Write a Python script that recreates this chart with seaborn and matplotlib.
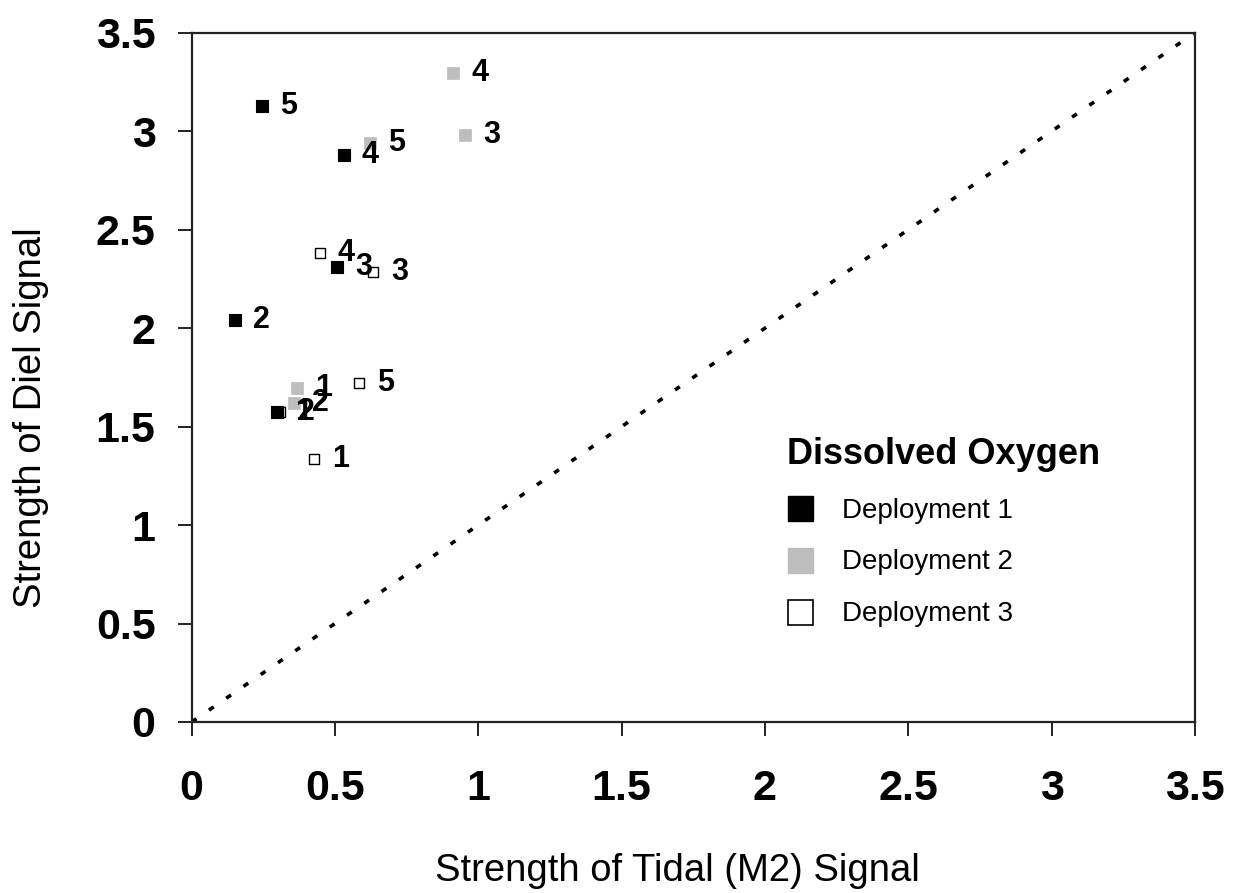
import matplotlib
matplotlib.use("Agg")
import matplotlib.pyplot as plt
import seaborn as sns
import pandas as pd
from matplotlib.lines import Line2D

# Data: (tidal M2 strength, diel strength) per site, per deployment
sites = ["1", "2", "3", "4", "5"]
dep1_x = [0.297, 0.151, 0.506, 0.531, 0.245]
dep1_y = [1.574, 2.040, 2.310, 2.878, 3.127]
dep2_x = [0.367, 0.357, 0.953, 0.912, 0.622]
dep2_y = [1.695, 1.619, 2.980, 3.294, 2.940]
dep3_x = [0.427, 0.308, 0.632, 0.447, 0.583]
dep3_y = [1.335, 1.574, 2.284, 2.381, 1.721]
deployments = ["Deployment 1", "Deployment 2", "Deployment 3"]
ticks = [0, 0.5, 1, 1.5, 2, 2.5, 3, 3.5]
tick_labels = ["0", "0.5", "1", "1.5", "2", "2.5", "3", "3.5"]

sns.set_style("white")
plt.rcParams["font.family"] = ["Liberation Sans", "DejaVu Sans"]
plt.rcParams["text.color"] = "black"
plt.rcParams["axes.labelcolor"] = "black"
plt.rcParams["xtick.color"] = "black"
plt.rcParams["ytick.color"] = "black"

fig = plt.figure(figsize=(12.35, 8.93), dpi=100)
ax = fig.add_axes([0.1552, 0.1915, 0.8124, 0.7719])

# 1:1 dotted reference line
ax.plot([0, 3.5], [0, 3.5], color="black", lw=2.6, linestyle=(0, (1.6, 4.2)), zorder=1)

styles = {
    "Deployment 1": dict(color="black", edgecolor="black", s=68, linewidth=0.8),
    "Deployment 2": dict(color="#bdbdbd", edgecolor="#bdbdbd", s=76, linewidth=0.5),
    "Deployment 3": dict(color="white", edgecolor="black", s=50, linewidth=1.0),
}
data = {
    "Deployment 1": (dep1_x, dep1_y),
    "Deployment 2": (dep2_x, dep2_y),
    "Deployment 3": (dep3_x, dep3_y),
}
zorders = {"Deployment 1": 4, "Deployment 2": 3, "Deployment 3": 2}

for dep in ["Deployment 3", "Deployment 2", "Deployment 1"]:
    xs, ys = data[dep]
    df = pd.DataFrame({"x": xs, "y": ys, "site": sites})
    st = styles[dep]
    sns.scatterplot(data=df, x="x", y="y", marker="s", s=st["s"], color=st["color"],
                    edgecolor=st["edgecolor"], linewidth=st["linewidth"], ax=ax,
                    zorder=zorders[dep], legend=False)
    for xv, yv, lab in zip(xs, ys, sites):
        ax.annotate(lab, (xv, yv), xytext=(13, 0), textcoords="offset points",
                    ha="left", va="center", fontsize=22, fontweight="bold",
                    color="black", zorder=5)

ax.set_xlim(0, 3.5)
ax.set_ylim(0, 3.5)
ax.set_xticks(ticks)
ax.set_xticklabels(tick_labels)
ax.set_yticks(ticks)
ax.set_yticklabels(tick_labels)
ax.tick_params(axis="both", which="major", direction="out", length=10, width=1.4,
               color="#222222", labelsize=31, bottom=True, left=True,
               top=False, right=False)
for lab in ax.get_xticklabels() + ax.get_yticklabels():
    lab.set_fontweight("bold")
ax.tick_params(axis="x", pad=24)
ax.tick_params(axis="y", pad=16)

for sp in ax.spines.values():
    sp.set_visible(True)
    sp.set_color("#222222")
    sp.set_linewidth(1.6)

ax.set_xlabel("Strength of Tidal (M2) Signal", fontsize=27.5)
ax.set_ylabel("Strength of Diel Signal", fontsize=27.5)
ax.xaxis.set_label_coords(0.484, -0.19)
ax.yaxis.set_label_coords(-0.142, 0.441)

handles = [
    Line2D([], [], marker="s", linestyle="none", markersize=18, markerfacecolor="black",
           markeredgecolor="black"),
    Line2D([], [], marker="s", linestyle="none", markersize=18, markerfacecolor="#bdbdbd",
           markeredgecolor="#bdbdbd"),
    Line2D([], [], marker="s", linestyle="none", markersize=18, markerfacecolor="white",
           markeredgecolor="black", markeredgewidth=1.2),
]
leg = ax.legend(handles, deployments, title="Dissolved Oxygen", loc="upper left",
                bbox_to_anchor=(0.568, 0.45), frameon=False, fontsize=20,
                title_fontproperties={"weight": "bold", "size": 26},
                handletextpad=1.0, labelspacing=0.93, handlelength=1.0,
                alignment="left")

fig.savefig("out.png", dpi=100, facecolor="white")
